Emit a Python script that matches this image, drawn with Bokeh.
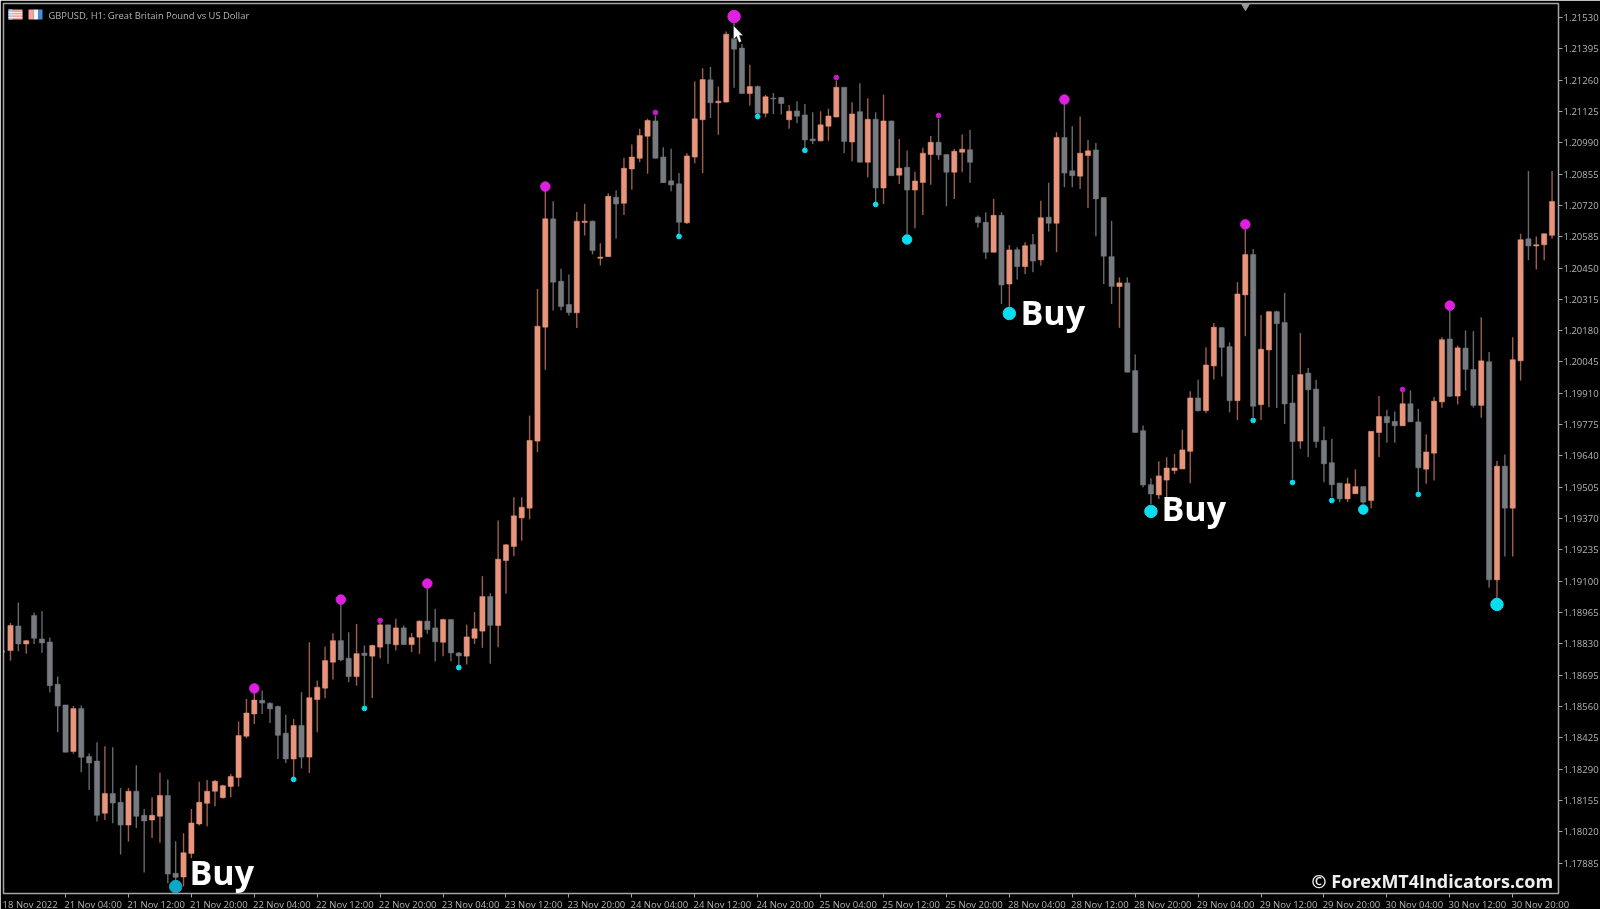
from bokeh.plotting import figure
from bokeh.embed import file_html
from bokeh.resources import INLINE
from bokeh.core.properties import value
from bokeh.models import Range1d, FixedTicker, NumeralTickFormatter, ColumnDataSource

# GBPUSD H1 candles, values in price points (1e-5)
direction = ("UDUDDDDDUD" "DDUDDUDDUU" "DDUUUUUUUU" "UUDDDDUDUU" "UUDDUDUUDU"
             "DUUDDUDDUU" "UDUUUUUUUD" "DDUUDUUDUU" "UUDDDDUUUD" "UUDDUDUDDU"
             "DDDUUUDUDU" "DUDUDUUUDD" "UUDDDUDUDU" "DUDUDDUUDD" "DUDDDDUUUU"
             "UDUUDDUUDU" "UDDDUDDDDD" "UUDUUDDUDD" "UUUDUDDUDU" "DUUDUUU")
highs = [
 118920,119008,118847,118965,118971,118858,118689,118567,118562,118564,
 118358,118406,118389,118384,118209,118209,118307,118118,118169,118275,
 118246,117979,118014,118118,118236,118243,118243,118223,118269,118496,
 118593,118621,118629,118578,118564,118525,118506,118622,118837,118672,
 118818,118876,119002,118880,118916,118823,118826,118923,118913,118938,
 118909,118877,118931,119067,118981,118938,118936,118794,118913,118967,
 119122,119048,119362,119261,119462,119462,119814,120360,120784,120738,
 120447,120422,120691,120727,120655,120557,120772,120784,120925,120982,
 121050,121093,121107,120971,120964,120859,120945,121254,121311,121316,
 121232,121469,121510,121416,121326,121237,121196,121204,121186,121153,
 121169,121157,121121,121126,121136,121258,121229,121164,121246,121182,
 121121,121197,121085,121006,120956,120865,120968,121019,121093,120939,
 120963,121025,121045,120676,120690,120748,120690,120549,120539,120561,
 120597,120740,120817,121035,121157,121061,121103,121002,120989,120755,
 120654,120410,120410,120077,119771,119544,119617,119634,119649,119753,
 119919,119968,120108,120213,120195,120130,120389,120619,120532,120248,
 120262,120266,120343,119989,120170,120019,119968,119767,119714,119524,
 119546,119582,119508,119746,119898,119839,119832,119915,119922,119843,
 119733,119894,120152,120274,120116,120181,120178,120238,120088,119618,
 119646,120152,120598,120868,120586,120598,120868]
body_tops = [
 118909,118907,118844,118952,118851,118838,118656,118567,118551,118551,
 118345,118325,118185,118185,118147,118195,118195,118091,118091,118177,
 118177,117841,117930,118058,118147,118195,118238,118219,118258,118435,
 118532,118588,118587,118574,118560,118445,118478,118478,118598,118643,
 118758,118844,118844,118768,118788,118790,118823,118912,118912,118899,
 118899,118857,118928,118928,118899,118935,118935,118791,118860,118895,
 119034,119034,119195,119257,119382,119419,119707,120199,120662,120662,
 120393,120293,120652,120652,120652,120497,120759,120755,120880,120928,
 121021,121086,121084,120928,120826,120813,120933,121093,121262,121261,
 121169,121458,121438,121398,121232,121232,121188,121182,121185,121126,
 121127,121110,121006,121067,121105,121229,121229,121114,121124,121091,
 121091,121084,121084,120880,120884,120825,120945,120992,120992,120939,
 120953,120962,120960,120669,120647,120677,120677,120528,120529,120546,
 120551,120667,120669,121012,121012,120869,120945,120955,120959,120754,
 120499,120386,120386,120008,119749,119516,119554,119588,119588,119666,
 119890,119890,120032,120195,120193,120111,120338,120508,120508,120100,
 120262,120262,120215,119868,119991,119997,119928,119707,119611,119523,
 119520,119508,119508,119746,119810,119810,119789,119865,119865,119787,
 119657,119876,120141,120144,120106,120105,120013,120050,120046,119596,
 119596,120055,120572,120576,120550,120598,120737]
body_bottoms = [
 118801,118830,118830,118854,118834,118650,118562,118363,118366,118341,
 118317,118091,118100,118144,118049,118049,118087,118067,118071,118087,
 117838,117824,117825,117927,118054,118143,118195,118167,118215,118254,
 118432,118528,118575,118550,118436,118334,118334,118342,118342,118590,
 118639,118751,118761,118689,118689,118780,118777,118816,118830,118826,
 118827,118827,118859,118892,118839,118837,118791,118778,118777,118854,
 118885,118910,118909,119189,119250,119373,119415,119704,120195,120389,
 120284,120258,120257,120646,120525,120492,120499,120726,120729,120877,
 120923,121018,120923,120818,120808,120647,120645,120928,121089,121162,
 121162,121165,121393,121202,121202,121117,121117,121179,121159,121089,
 121104,121002,120998,120998,121061,121101,120995,120993,120906,120906,
 120795,120795,120848,120850,120786,120786,120819,120939,120937,120863,
 120863,120949,120906,120646,120518,120518,120377,120381,120456,120456,
 120480,120485,120643,120643,120859,120848,120846,120935,120748,120501,
 120371,120370,120001,119741,119515,119476,119472,119536,119577,119584,
 119660,119835,119835,120028,120108,119878,119878,120334,119854,119861,
 120097,120210,119864,119702,119704,119925,119702,119606,119516,119455,
 119455,119477,119441,119448,119741,119783,119770,119770,119787,119589,
 119583,119652,119873,119897,119898,120013,119858,119858,119106,119106,
 119415,119415,120050,120545,120545,120550,120591]
lows = [
 118758,118798,118787,118830,118792,118621,118449,118363,118356,118277,
 118200,118065,118071,118057,117922,117978,118037,117845,117993,117973,
 117798,117802,117784,117907,118047,118044,118130,118164,118169,118215,
 118423,118485,118528,118489,118334,118317,118255,118293,118273,118449,
 118596,118676,118755,118665,118650,118564,118597,118768,118744,118801,
 118826,118794,118787,118873,118754,118777,118755,118737,118741,118830,
 118813,118744,118816,119046,119208,119275,119367,119656,120011,120267,
 120267,120245,120191,120590,120508,120461,120497,120576,120679,120787,
 120906,120856,120923,120816,120781,120597,120640,120902,120860,121097,
 121024,121163,121227,121201,121150,121107,121100,121114,121112,121050,
 121074,120959,120985,120995,120999,121100,120945,120910,120906,120841,
 120733,120726,120848,120812,120597,120621,120679,120809,120917,120716,
 120748,120863,120817,120625,120489,120518,120295,120281,120400,120424,
 120432,120460,120607,120518,120798,120798,120791,120709,120587,120381,
 120295,120192,120001,119741,119505,119433,119455,119462,119562,119584,
 119522,119832,119824,119969,119982,119828,119795,120156,119807,119795,
 119850,119847,119778,119541,119671,119635,119675,119527,119463,119441,
 119441,119477,119434,119415,119635,119697,119697,119770,119786,119484,
 119520,119534,119848,119894,119862,119922,119848,119805,119072,119017,
 119207,119207,119965,120483,120444,120483,120576]

# Indicator dots: candle index, price in points, and tier (0 small, 1 mid, 2 large)
cyan_idx = [21, 36, 45, 57, 85, 95, 101, 110, 114, 127, 145, 158, 163, 168, 172, 179, 189]
cyan_val = [117784, 118246, 118552, 118728, 120586, 121103, 120957, 120724, 120573,
            120254, 119401, 119793, 119526, 119448, 119409, 119474, 119000]
cyan_tier = [2, 0, 0, 0, 0, 0, 0, 0, 1, 2, 2, 0, 0, 0, 1, 0, 2]
magenta_idx = [31, 42, 47, 53, 68, 82, 92, 105, 118, 134, 157, 177, 183]
magenta_val = [118638, 119021, 118931, 119090, 120801, 121120, 121534, 121271,
               121107, 121176, 120638, 119926, 120288]
magenta_tier = [1, 1, 0, 1, 1, 0, 2, 0, 0, 1, 1, 0, 1]

y_ticks = [1.21530, 1.21395, 1.21260, 1.21125, 1.20990, 1.20855, 1.20720, 1.20585, 1.20450,
           1.20315, 1.20180, 1.20045, 1.19910, 1.19775, 1.19640, 1.19505, 1.19370, 1.19235,
           1.19100, 1.18965, 1.18830, 1.18695, 1.18560, 1.18425, 1.18290, 1.18155, 1.18020,
           1.17885]
x_labels = ["18 Nov 2022", "21 Nov 04:00", "21 Nov 12:00", "21 Nov 20:00", "22 Nov 04:00",
            "22 Nov 12:00", "22 Nov 20:00", "23 Nov 04:00", "23 Nov 12:00", "23 Nov 20:00",
            "24 Nov 04:00", "24 Nov 12:00", "24 Nov 20:00", "25 Nov 04:00", "25 Nov 12:00",
            "25 Nov 20:00", "28 Nov 04:00", "28 Nov 12:00", "28 Nov 20:00", "29 Nov 04:00",
            "29 Nov 12:00", "29 Nov 20:00", "30 Nov 04:00", "30 Nov 12:00", "30 Nov 20:00"]

W, H = 1600, 909
FL, FR, FT, FB = 3, 1558, 3, 893     # frame edges in page pixels
STEP = 7.865                         # one candle in pixels
X0 = 10.0                            # pixel of candle 0
def px_x(px): return (px - X0) / STEP
def px_y(py): return (121603 - 4.31 * py) / 1e5

p = figure(frame_width=FR - FL, frame_height=FB - FT, output_backend="svg", toolbar_location=None,
           x_range=Range1d(px_x(FL), px_x(FR)), y_range=Range1d(px_y(FB), px_y(FT)),
           y_axis_location="right", tools="",
           min_border_left=FL, min_border_right=W - FR, min_border_top=FT, min_border_bottom=H - FB)
p.styles = {"position": "fixed", "left": "0px", "top": "0px"}
p.background_fill_color = "#000000"
p.border_fill_color = "#000000"
p.outline_line_color = "#a4a4a4"
p.outline_line_width = 1.5
p.grid.visible = False

# axes
AX = "#a4a4a4"
yax = p.yaxis[0]
yax.ticker = FixedTicker(ticks=y_ticks)
yax.formatter = NumeralTickFormatter(format="0.00000")
yax.axis_line_color = AX
yax.major_tick_line_color = AX
yax.major_tick_out = 4
yax.major_tick_in = 0
yax.major_label_standoff = 1
yax.major_label_text_color = "#b4b4b4"
yax.major_label_text_font = "Open Sans"
yax.major_label_text_font_size = "9.5px"

tick_idx = [-1 + 8 * i for i in range(len(x_labels))]
label_pos = [t + 3.5 for t in tick_idx]
xax = p.xaxis[0]
xax.ticker = FixedTicker(ticks=label_pos, minor_ticks=tick_idx)
xax.major_label_overrides = {k: v for k, v in zip(label_pos, x_labels)}
xax.axis_line_color = AX
xax.major_tick_line_color = None
xax.minor_tick_line_color = AX
xax.minor_tick_out = 4
xax.minor_tick_in = 0
xax.major_tick_out = 0
xax.major_tick_in = 0
xax.major_label_standoff = 0
xax.major_label_text_color = "#b4b4b4"
xax.major_label_text_font = "Open Sans"
xax.major_label_text_font_size = "9.5px"

# candles
idx = list(range(len(highs)))
UP, DOWN = "#e8957c", "#777b80"
UP_W, DOWN_W = "#9c5f4d", "#66696d"
src = ColumnDataSource(dict(
    i=idx,
    h=[v / 1e5 for v in highs],
    l=[v / 1e5 for v in lows],
    t=[v / 1e5 for v in body_tops],
    b=[v / 1e5 for v in body_bottoms],
    c=[UP if d == "U" else DOWN for d in direction],
    w=[UP_W if d == "U" else DOWN_W for d in direction]))
p.segment("i", "h", "i", "l", source=src, line_color="w", line_width=1.4)
p.vbar(x="i", top="t", bottom="b", width=5.2 / STEP, source=src,
       fill_color="c", line_color="c", line_width=0.5)

# small mark at the left edge
p.scatter([-1], [1.18797], marker="circle", size=3, color="#c8c8c8")

# indicator dots
SIZES = [4.8, 9.5, 12.5]
p.scatter(cyan_idx, [v / 1e5 for v in cyan_val], marker="circle",
          size=[SIZES[t] for t in cyan_tier],
          color=["#0fa8c4" if i == 21 else "#0cdcf0" for i in cyan_idx])
p.scatter(magenta_idx, [v / 1e5 for v in magenta_val], marker="circle",
          size=[SIZES[t] for t in magenta_tier],
          color=["#e020e0" if t else "#c01cc8" for t in magenta_tier])

# labels
buy_x = [px_x(189), px_x(1020), px_x(1161)]
buy_y = [px_y(871), px_y(311), px_y(507)]
p.text(buy_x, buy_y, text=["Buy"] * 3, text_color="#ffffff", text_font=value("Open Sans"),
       text_font_size="34px", text_font_style="bold", text_baseline="middle", text_align="left")
p.text([px_x(1311)], [px_y(880.5)], text=["© ForexMT4Indicators.com"], text_color="#f0f0f0",
       text_font=value("Open Sans"), text_font_size="18px", text_font_style="bold",
       text_baseline="middle", text_align="left")
p.text([px_x(48)], [px_y(15)], text=["GBPUSD, H1:  Great Britain Pound vs US Dollar"],
       text_color="#b4b4b4", text_font=value("Open Sans"), text_font_size="9.4px",
       text_baseline="middle", text_align="left")

# chart-window furniture: icons, shift marker, mouse cursor
def box(x0, y0, x1, y1, color):
    p.quad(left=[px_x(x0)], right=[px_x(x1)], top=[px_y(y0)], bottom=[px_y(y1)],
           fill_color=color, line_color=None)
box(8, 9, 22, 19, "#f2a898")
box(8, 9, 12, 19, "#a9c9ee")
for yy in (11.5, 14, 16.5):
    box(8, yy, 22, yy + 0.8, "#ffffff")
box(28, 9, 33, 19, "#f2a898")
box(33, 9, 38, 19, "#f4f4f4")
box(38, 9, 42, 19, "#3e8fe0")
p.scatter([px_x(1245)], [px_y(5.5)], marker="inverted_triangle", size=8, color="#9a9a9a")
p.patch([px_x(v) for v in (733, 733, 736, 738.5, 741, 739, 742.5)],
        [px_y(v) for v in (25, 39, 36, 42, 41, 35, 35)],
        fill_color="#ffffff", line_color="#202020", line_width=0.5)

open("out.html", "w").write(file_html(p, INLINE))
